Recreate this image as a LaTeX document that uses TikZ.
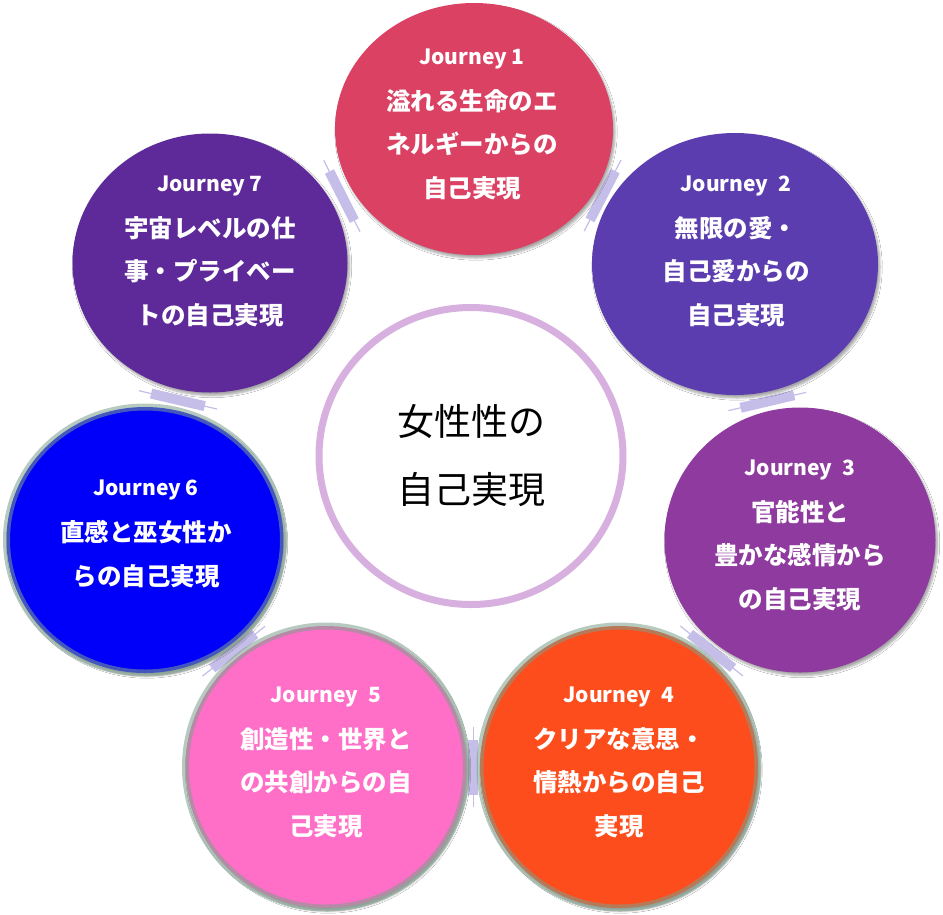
\documentclass[tikz,border=0pt]{standalone}
\usepackage{fontspec}
\setmainfont{Noto Sans CJK JP}
\usetikzlibrary{shapes.geometric,shadows.blur,calc}
\definecolor{cone}{RGB}{219,65,99}
\definecolor{ctwo}{RGB}{91,61,176}
\definecolor{cthree}{RGB}{142,58,158}
\definecolor{cfour}{RGB}{254,77,28}
\definecolor{cfive}{RGB}{255,110,199}
\definecolor{csix}{RGB}{0,0,250}
\definecolor{cseven}{RGB}{94,42,154}
\definecolor{ringc}{RGB}{125,160,140}
\definecolor{hubc}{RGB}{216,176,224}
\definecolor{connc}{RGB}{196,190,232}
\newcommand\jfont{\fontsize{21}{24}\selectfont}
\pgfdeclarelayer{bg}
\pgfsetlayers{bg,main}
\begin{document}
\begin{tikzpicture}[x=1pt,y=-1pt,
  jc/.style={ellipse,inner sep=0pt,outer sep=0pt,
    blur shadow={shadow xshift=2pt,shadow yshift=-3pt,shadow opacity=35,shadow blur steps=6}},
  ringed/.style={draw=ringc,draw opacity=0.55,line width=7pt},
  jt/.style={text=white,align=center,font=\bfseries\fontsize{24.5}{43.5}\selectfont},
  cbody/.style={draw=connc,line width=55pt},
  ctip/.style={draw=connc,line width=1.2pt}]
\useasboundingbox (0,0) rectangle (943,914);
% journey circles
\node[jc,fill=cone,minimum width=278pt,minimum height=252pt] (j1) at (474,129) {};
\node[jc,fill=ctwo,minimum width=286pt,minimum height=262pt] (j2) at (735,264) {};
\node[jc,fill=cthree,minimum width=271pt,minimum height=265pt] (j3) at (800,540) {};
\node[jc,ringed,fill=cfour,minimum width=278pt,minimum height=282pt] (j4) at (619,767) {};
\node[jc,ringed,fill=cfive,minimum width=281pt,minimum height=282pt] (j5) at (326,767) {};
\node[jc,ringed,fill=csix,minimum width=277pt,minimum height=266pt] (j6) at (145,540) {};
\node[jc,fill=cseven,minimum width=275pt,minimum height=259pt] (j7) at (210,263) {};
% background and connectors
\begin{pgfonlayer}{bg}
\fill[white] (0,0) rectangle (943,914);
\foreach \a/\b in {j1/j2,j2/j3,j3/j4,j4/j5,j5/j6,j6/j7,j7/j1}{
  \path (\a) -- coordinate[pos=.5] (m) (\b);
  \draw[ctip] ($(m)!40pt!90:(\b)$) -- ($(m)!40pt!-90:(\b)$);
  \draw[cbody] ($(m)!5pt!(\a)$) -- ($(m)!5pt!(\b)$);
}
\end{pgfonlayer}
% hub
\node[ellipse,draw=hubc,line width=7pt,fill=white,minimum width=304pt,minimum height=297pt,
  inner sep=0pt,align=center,font=\fontsize{37}{68}\selectfont] (hub) at (471,456) {女性性の\\自己実現};
% texts
\node[jt] (t1) at (472,124) {{\jfont Journey 1}\\[2.5pt]溢れる生命のエ\\ネルギーからの\\自己実現};
\node[jt] (t2) at (736,251) {{\jfont Journey\enspace 2}\\[2.5pt]無限の愛・\\自己愛からの\\自己実現};
\node[jt] (t3) at (800,535) {{\jfont Journey\enspace 3}\\[2.5pt]官能性と\\豊かな感情から\\の自己実現};
\node[jt] (t4) at (619,762) {{\jfont Journey\enspace 4}\\[2.5pt]クリアな意思・\\情熱からの自己\\実現};
\node[jt] (t5) at (326,762) {{\jfont Journey\enspace 5}\\[2.5pt]創造性・世界と\\の共創からの自\\己実現};
\node[jt] (t6) at (146,534) {{\jfont Journey 6}\\[2.5pt]直感と巫女性か\\らの自己実現};
\node[jt] (t7) at (210,251) {{\jfont Journey 7}\\[2.5pt]宇宙レベルの仕\\事・プライベー\\トの自己実現};
\end{tikzpicture}
\end{document}
